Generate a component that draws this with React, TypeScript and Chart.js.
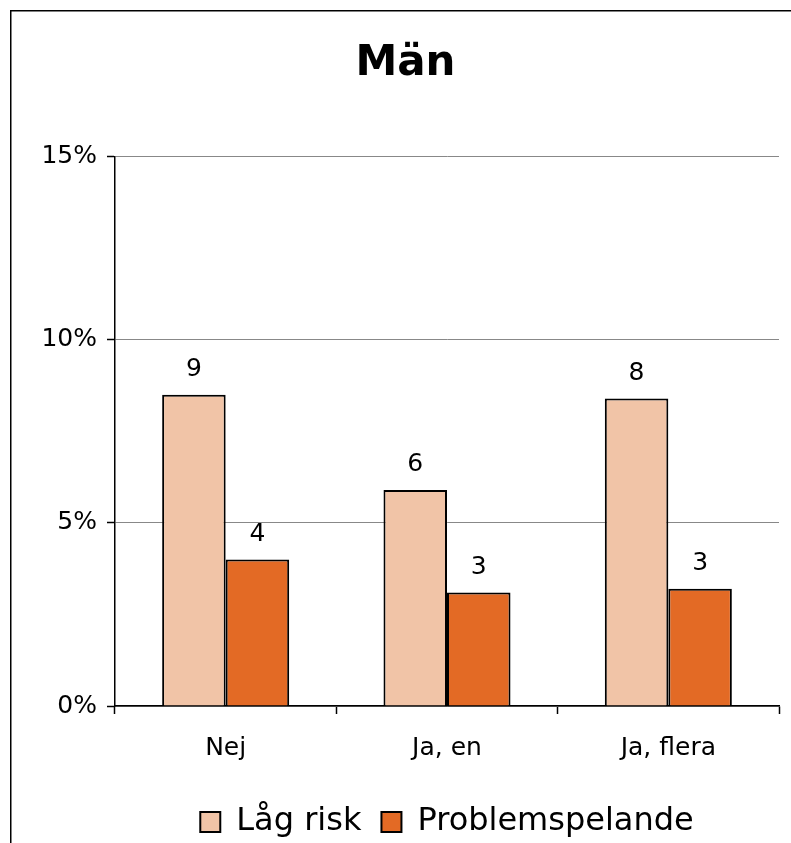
import React, { useEffect, useRef } from 'react';
import { Chart, registerables } from 'chart.js';

Chart.register(...registerables);

const titleText = 'Män';
const categories = ['Nej', 'Ja, en', 'Ja, flera'];
const seriesNames = ['Låg risk', 'Problemspelande'];
const lagRisk = [8.5, 5.9, 8.4];
const problemspelande = [4.0, 3.1, 3.2];
const yTicks = [0, 5, 10, 15];

const FONT = "'DejaVu Sans', Verdana, sans-serif";

const framePlugin = {
  id: 'frame',
  beforeDraw(chart: any) {
    const ctx = chart.ctx;
    ctx.save();
    ctx.strokeStyle = '#000';
    ctx.lineWidth = 1.5;
    ctx.beginPath();
    ctx.moveTo(10.75, chart.height);
    ctx.lineTo(10.75, 10.75);
    ctx.lineTo(chart.width, 10.75);
    ctx.stroke();
    ctx.restore();
  },
};

const valueLabelPlugin = {
  id: 'valueLabels',
  afterDatasetsDraw(chart: any) {
    const ctx = chart.ctx;
    ctx.save();
    ctx.font = `25px ${FONT}`;
    ctx.fillStyle = '#000';
    ctx.textAlign = 'center';
    ctx.textBaseline = 'middle';
    chart.data.datasets.forEach((ds: any, i: number) => {
      const meta = chart.getDatasetMeta(i);
      meta.data.forEach((el: any, j: number) => {
        const v = ds.data[j] as number;
        ctx.fillText(String(Math.round(v)), el.x, el.y - 25);
      });
    });
    ctx.restore();
  },
};

export default function App() {
  const ref = useRef<HTMLCanvasElement>(null);

  useEffect(() => {
    if (!ref.current) return;
    const chart = new Chart(ref.current, {
      type: 'bar',
      data: {
        labels: categories,
        datasets: [
          {
            label: seriesNames[0],
            data: lagRisk,
            backgroundColor: '#F1C4A7',
            borderColor: '#000',
            borderWidth: 2,
            categoryPercentage: 0.574,
            barPercentage: 1.0,
          },
          {
            label: seriesNames[1],
            data: problemspelande,
            backgroundColor: '#E36A25',
            borderColor: '#000',
            borderWidth: 2,
            categoryPercentage: 0.574,
            barPercentage: 1.0,
          },
        ],
      },
      options: {
        responsive: false,
        animation: false,
        devicePixelRatio: 1,
        layout: { padding: { left: 32, right: 12, top: 0, bottom: -5 } },
        plugins: {
          title: {
            display: true,
            text: titleText,
            color: '#000',
            font: { family: FONT, size: 42, weight: 'bold' },
            padding: { top: 39, bottom: 67.4 },
          },
          legend: {
            display: true,
            position: 'bottom',
            fullSize: false,
            labels: {
              color: '#000',
              font: { family: FONT, size: 32 },
              boxWidth: 20,
              boxHeight: 20,
              padding: 20,
            },
          },
          tooltip: { enabled: false },
        },
        scales: {
          x: {
            grid: {
              display: true,
              drawOnChartArea: false,
              drawTicks: true,
              offset: true,
              tickLength: 8,
              tickColor: '#000',
              tickWidth: 1.5,
            },
            border: { display: true, color: '#000', width: 1.5 },
            ticks: {
              color: '#000',
              font: { family: FONT, size: 25 },
              padding: 19,
              maxRotation: 0,
            },
            afterFit: (scale: any) => {
              scale.height = 80;
            },
          },
          y: {
            min: yTicks[0],
            max: yTicks[yTicks.length - 1],
            grid: {
              color: '#888',
              lineWidth: 1,
              tickLength: 8,
              tickColor: '#000',
              tickWidth: 1.5,
            },
            border: { display: true, color: '#000', width: 1.5 },
            ticks: {
              stepSize: 5,
              color: '#000',
              font: { family: FONT, size: 25 },
              padding: 10,
              callback: (v: any) => `${v}%`,
            },
            afterFit: (scale: any) => {
              scale.width = 83;
            },
          },
        },
      },
      plugins: [framePlugin, valueLabelPlugin],
    });
    return () => chart.destroy();
  }, []);

  return (
    <div style={{ position: 'absolute', left: 0, top: 0, width: 791, height: 843, background: '#fff' }}>
      <canvas ref={ref} width={791} height={843} style={{ display: 'block' }} />
    </div>
  );
}
